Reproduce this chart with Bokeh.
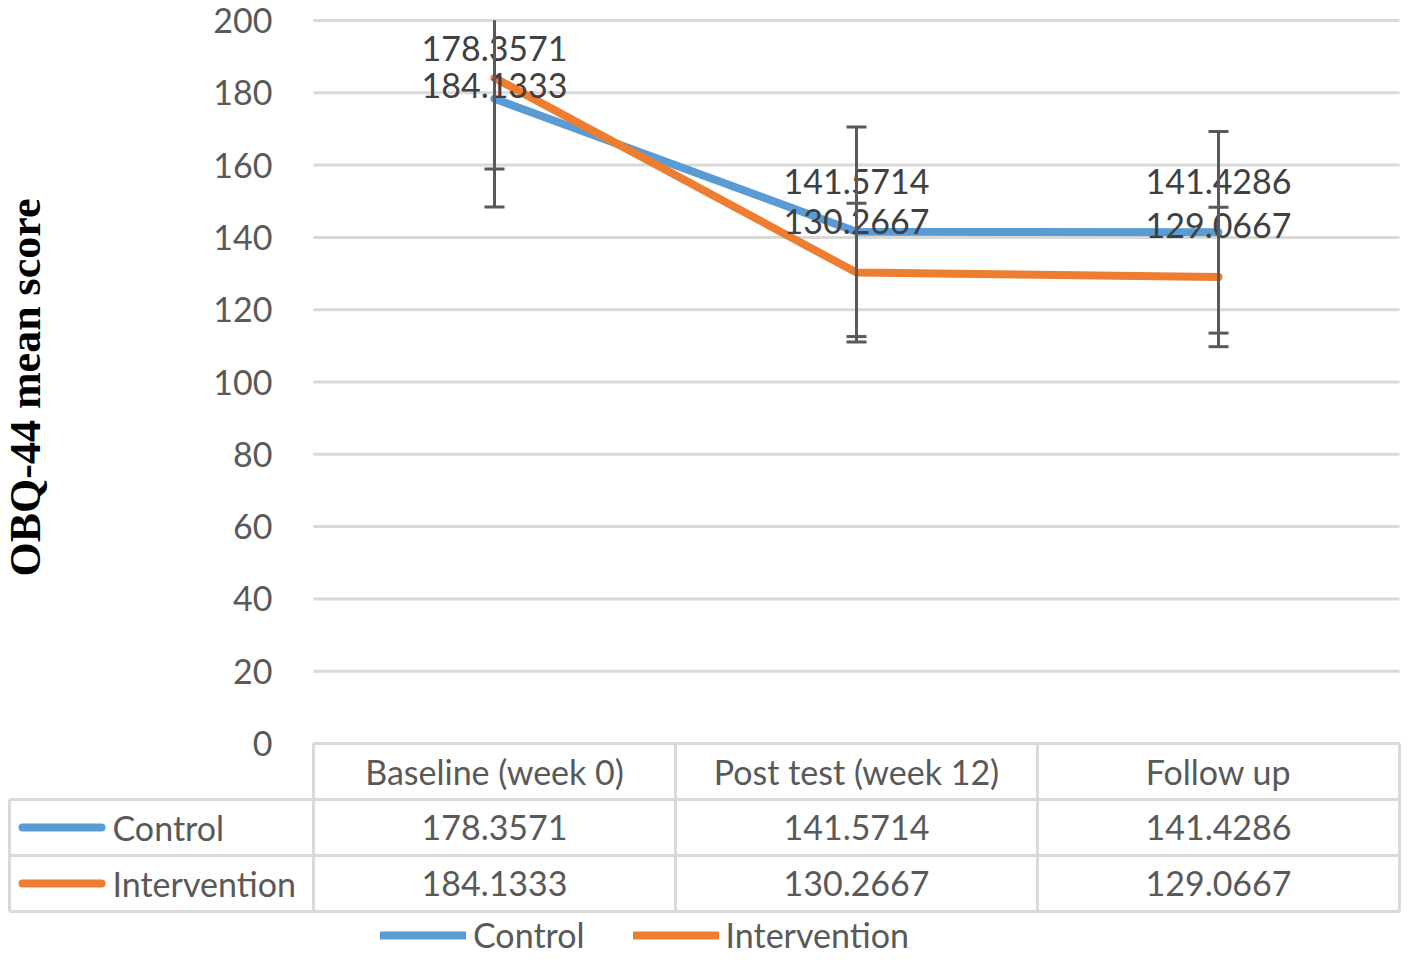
from bokeh.plotting import figure
from bokeh.models import (Range1d, FixedTicker, ColumnDataSource, Whisker, TeeHead,
                          Legend, LegendItem, LinearAxis)
from bokeh.core.properties import value
from bokeh.embed import file_html
from bokeh.resources import INLINE

# ---------------- data ----------------
categories = ["Baseline (week 0)", "Post test (week 12)", "Follow up"]
series_names = ["Control", "Intervention"]
control_mean = [178.3571, 141.5714, 141.4286]
intervention_mean = [184.1333, 130.2667, 129.0667]
control_sd = [29.96, 29.0, 27.9]
intervention_sd = [25.23, 19.2, 19.3]
y_ticks = [0, 20, 40, 60, 80, 100, 120, 140, 160, 180, 200]
y_title = "OBQ-44  mean score"

# ---------------- style / layout constants ----------------
BLUE = "#5B9BD5"
ORANGE = "#ED7D31"
GRID = "#D9D9D9"
TXT = "#595959"
LBL = "#404040"
BAR = "#595959"
FONT = "Lato"
FS = "34px"

W, H = 1401, 957
Y_MAX = 200
PLOT_L, PLOT_R = 313, 1399          # plot area, canvas px
PLOT_TOP, PLOT_BOT = 20, 743        # y=200 and y=0, canvas px
ROW_PX = 56                         # data table row height
px_x = (PLOT_R - PLOT_L) / 3.0
px_y = (PLOT_BOT - PLOT_TOP) / float(Y_MAX)

def dx(px):   # px distance -> x data units
    return px / px_x

def dy(px):   # px distance -> y data units
    return px / px_y

def cx(px):   # canvas x (px from left edge) -> x data
    return -dx(PLOT_L - px)

ctrl_dy = [13.9, 13.9, 13.9]        # value-label offsets (data units)
int_dy = [-2.2, 14.2, 14.1]

xpos = [i + 0.5 for i in range(len(categories))]

p = figure(width=W, height=H,
           x_range=Range1d(cx(0), cx(W)),
           y_range=Range1d(-dy(H - PLOT_BOT), Y_MAX + dy(PLOT_TOP)),
           output_backend="svg", toolbar_location=None, min_border=0,
           x_axis_location=None, y_axis_location=None)
p.outline_line_color = None
p.grid.visible = False

# y axis placed at the left edge of the plot area
yax = LinearAxis(fixed_location=0, bounds=(0, Y_MAX), ticker=FixedTicker(ticks=y_ticks))
yax.axis_line_color = None
yax.major_tick_line_color = None
yax.minor_tick_line_color = None
yax.major_label_standoff = 35
yax.major_label_text_font = FONT
yax.major_label_text_font_size = FS
yax.major_label_text_color = TXT
yax.axis_label = y_title
yax.axis_label_text_font = "Liberation Serif"
yax.axis_label_text_font_style = "bold"
yax.axis_label_text_font_size = "44px"
yax.axis_label_text_color = "black"
yax.axis_label_standoff = 160
p.add_layout(yax, "left")

# horizontal gridlines across the plot area
p.segment(x0=[0] * len(y_ticks), y0=y_ticks, x1=[3] * len(y_ticks), y1=y_ticks,
          line_color=GRID, line_width=3)

# series
p.line(xpos, control_mean, line_color=BLUE, line_width=8, line_cap="round",
       line_join="round")
p.line(xpos, intervention_mean, line_color=ORANGE, line_width=8, line_cap="round",
       line_join="round")

# error bars (clipped at the top of the value axis, like the plot area)
for means, sds in ((control_mean, control_sd), (intervention_mean, intervention_sd)):
    up = [m + s for m, s in zip(means, sds)]
    lo = [m - s for m, s in zip(means, sds)]
    inside = [i for i in range(len(means)) if up[i] <= Y_MAX]
    clipped = [i for i in range(len(means)) if up[i] > Y_MAX]
    for idx, head in ((inside, True), (clipped, False)):
        if not idx:
            continue
        src = ColumnDataSource(dict(x=[xpos[i] for i in idx],
                                    upper=[min(up[i], Y_MAX) for i in idx],
                                    lower=[lo[i] for i in idx]))
        w = Whisker(base="x", upper="upper", lower="lower", source=src,
                    level="annotation", line_color=BAR, line_width=3,
                    upper_head=TeeHead(size=20, line_color=BAR, line_width=3) if head else None,
                    lower_head=TeeHead(size=20, line_color=BAR, line_width=3))
        p.add_layout(w)

p.text(x=xpos + xpos,
       y=[m + d for m, d in zip(control_mean, ctrl_dy)] +
         [m + d for m, d in zip(intervention_mean, int_dy)],
       text=[f"{v:.4f}" for v in control_mean + intervention_mean],
       text_align="center", text_baseline="middle",
       text_font=value(FONT), text_font_size=FS, text_color=LBL)

# ---------------- data table below the plot area ----------------
rows_y = [-dy(k * ROW_PX) for k in range(4)]        # row boundaries
row_c = [(rows_y[k] + rows_y[k + 1]) / 2 for k in range(3)]
xl = cx(9)

p.segment(x0=[0, xl, xl, xl], y0=rows_y, x1=[3, 3, 3, 3], y1=rows_y,
          line_color=GRID, line_width=3)
p.segment(x0=[0, 1, 2, 3, xl], y0=[rows_y[3]] * 5, x1=[0, 1, 2, 3, xl],
          y1=[0, 0, 0, 0, rows_y[1]], line_color=GRID, line_width=3)

p.text(x=xpos, y=[row_c[0]] * 3, text=categories, text_align="center",
       text_baseline="middle", text_font=value(FONT), text_font_size=FS, text_color=TXT)
p.text(x=xpos * 2, y=[row_c[1]] * 3 + [row_c[2]] * 3,
       text=[f"{v:.4f}" for v in control_mean + intervention_mean],
       text_align="center", text_baseline="middle",
       text_font=value(FONT), text_font_size=FS, text_color=TXT)
p.text(x=[cx(112)] * 2, y=[row_c[1], row_c[2]], text=series_names,
       text_align="left", text_baseline="middle", text_font=value(FONT),
       text_font_size=FS, text_color=TXT)
k1 = p.line([cx(22), cx(101)], [row_c[1]] * 2, line_color=BLUE,
            line_width=8, line_cap="round")
k2 = p.line([cx(22), cx(101)], [row_c[2]] * 2, line_color=ORANGE,
            line_width=8, line_cap="round")

legend = Legend(items=[LegendItem(label=series_names[0], renderers=[k1]),
                       LegendItem(label=series_names[1], renderers=[k2])],
                orientation="horizontal", location=(380, 2), glyph_width=86,
                glyph_height=20, label_standoff=7, spacing=48, padding=0, margin=0,
                border_line_color=None, background_fill_alpha=0,
                label_text_font=FONT, label_text_font_size=FS, label_text_color=TXT)
p.add_layout(legend)

open("out.html", "w").write(file_html(p, INLINE))
